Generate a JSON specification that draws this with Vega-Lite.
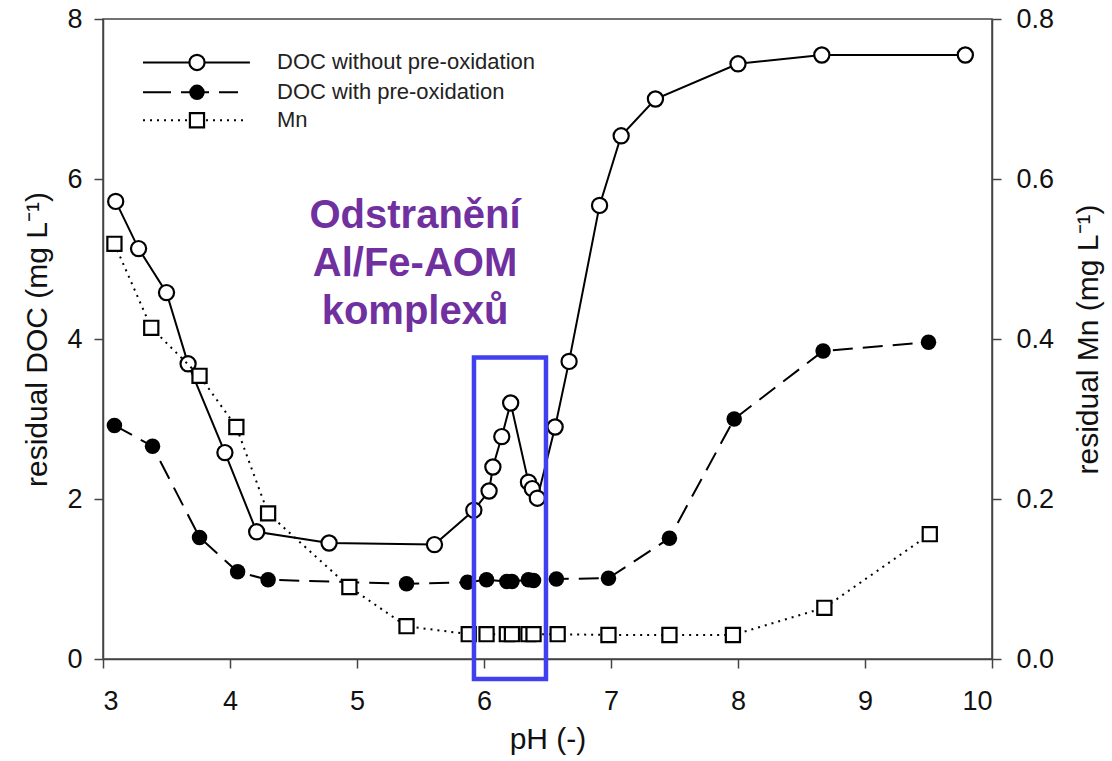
{
  "$schema": "https://vega.github.io/schema/vega-lite/v6.json",
  "width": 889,
  "height": 640,
  "autosize": {"type": "none"},
  "padding": {"left": 103, "top": 19, "right": 120, "bottom": 102},
  "background": "white",
  "config": {
    "view": {"stroke": "#444", "strokeWidth": 1.5},
    "font": "Liberation Sans",
    "axis": {
      "grid": false,
      "domainColor": "#444",
      "domainWidth": 1.5,
      "tickColor": "#444",
      "tickWidth": 1.5,
      "tickSize": 9,
      "labelFont": "Liberation Sans",
      "labelFontSize": 27,
      "labelColor": "#111",
      "titleFont": "Liberation Sans",
      "titleFontSize": 30,
      "titleFontWeight": "normal",
      "titleColor": "#111"
    }
  },
  "datasets": {
    "main": [
      {"s": "A", "ph": 3.10, "v": 5.72},
      {"s": "A", "ph": 3.28, "v": 5.13},
      {"s": "A", "ph": 3.50, "v": 4.58},
      {"s": "A", "ph": 3.67, "v": 3.69},
      {"s": "A", "ph": 3.96, "v": 2.58},
      {"s": "A", "ph": 4.21, "v": 1.59},
      {"s": "A", "ph": 4.78, "v": 1.45},
      {"s": "A", "ph": 5.61, "v": 1.43},
      {"s": "A", "ph": 5.92, "v": 1.86},
      {"s": "A", "ph": 6.04, "v": 2.10},
      {"s": "A", "ph": 6.07, "v": 2.40},
      {"s": "A", "ph": 6.14, "v": 2.78},
      {"s": "A", "ph": 6.21, "v": 3.20},
      {"s": "A", "ph": 6.35, "v": 2.21},
      {"s": "A", "ph": 6.38, "v": 2.13},
      {"s": "A", "ph": 6.42, "v": 2.01},
      {"s": "A", "ph": 6.56, "v": 2.90},
      {"s": "A", "ph": 6.67, "v": 3.72},
      {"s": "A", "ph": 6.91, "v": 5.67},
      {"s": "A", "ph": 7.08, "v": 6.54},
      {"s": "A", "ph": 7.35, "v": 7.00},
      {"s": "A", "ph": 8.00, "v": 7.44},
      {"s": "A", "ph": 8.66, "v": 7.55},
      {"s": "A", "ph": 9.79, "v": 7.55},
      {"s": "B", "ph": 3.09, "v": 2.92},
      {"s": "B", "ph": 3.39, "v": 2.66},
      {"s": "B", "ph": 3.76, "v": 1.52},
      {"s": "B", "ph": 4.06, "v": 1.09},
      {"s": "B", "ph": 4.30, "v": 0.99},
      {"s": "B", "ph": 5.39, "v": 0.94},
      {"s": "B", "ph": 5.87, "v": 0.96},
      {"s": "B", "ph": 6.02, "v": 0.99},
      {"s": "B", "ph": 6.18, "v": 0.97},
      {"s": "B", "ph": 6.22, "v": 0.97},
      {"s": "B", "ph": 6.35, "v": 0.99},
      {"s": "B", "ph": 6.39, "v": 0.98},
      {"s": "B", "ph": 6.57, "v": 1.00},
      {"s": "B", "ph": 6.98, "v": 1.01},
      {"s": "B", "ph": 7.46, "v": 1.51},
      {"s": "B", "ph": 7.97, "v": 3.00},
      {"s": "B", "ph": 8.67, "v": 3.85},
      {"s": "B", "ph": 9.50, "v": 3.96}
    ],
    "mn": [
      {"ph": 3.09, "m": 0.519},
      {"ph": 3.38, "m": 0.414},
      {"ph": 3.76, "m": 0.354},
      {"ph": 4.05, "m": 0.290},
      {"ph": 4.30, "m": 0.182},
      {"ph": 4.94, "m": 0.090},
      {"ph": 5.39, "m": 0.041},
      {"ph": 5.88, "m": 0.031},
      {"ph": 6.02, "m": 0.031},
      {"ph": 6.18, "m": 0.031},
      {"ph": 6.22, "m": 0.031},
      {"ph": 6.35, "m": 0.031},
      {"ph": 6.39, "m": 0.031},
      {"ph": 6.58, "m": 0.031},
      {"ph": 6.98, "m": 0.030},
      {"ph": 7.46, "m": 0.030},
      {"ph": 7.96, "m": 0.030},
      {"ph": 8.68, "m": 0.064},
      {"ph": 9.51, "m": 0.156}
    ],
    "legend": [
      {"row": "A", "ph": 3.315, "ph2": 4.157, "v": 7.457, "sym": 3.74, "tx": 4.37, "label": "DOC without pre-oxidation"},
      {"row": "B", "ph": 3.315, "ph2": 4.063, "v": 7.083, "sym": 3.74, "tx": 4.37, "label": "DOC with pre-oxidation"},
      {"row": "C", "ph": 3.315, "ph2": 4.102, "v": 6.734, "sym": 3.74, "tx": 4.37, "label": "Mn"}
    ],
    "note": [
      {"ph": 5.457, "v": 5.39, "t": "Odstranění"},
      {"ph": 5.457, "v": 4.79, "t": "Al/Fe-AOM"},
      {"ph": 5.457, "v": 4.19, "t": "komplexů"}
    ],
    "box": [
      {"ph": 5.921, "ph2": 6.488, "m": 0.377, "m2": -0.025}
    ]
  },
  "layer": [
    {
      "encoding": {
        "x": {"field": "ph", "type": "quantitative", "title": "pH (-)",
              "scale": {"domain": [3, 10], "nice": false, "zero": false},
              "axis": {"values": [3, 4, 5, 6, 7, 8, 9, 10], "labelPadding": 20, "titlePadding": 10}},
        "y": {"field": "v", "type": "quantitative", "title": "residual DOC (mg L⁻¹)",
              "scale": {"domain": [0, 8], "nice": false},
              "axis": {"values": [0, 2, 4, 6, 8], "orient": "left", "labelPadding": 12, "titlePadding": 14}}
      },
      "layer": [
        {
          "data": {"name": "main"},
          "transform": [{"filter": "datum.s === 'A'"}],
          "mark": {"type": "line", "color": "#000", "strokeWidth": 2}
        },
        {
          "data": {"name": "main"},
          "transform": [{"filter": "datum.s === 'B'"}],
          "mark": {"type": "line", "color": "#000", "strokeWidth": 2, "strokeDash": [20, 10]}
        },
        {
          "data": {"name": "main"},
          "transform": [{"filter": "datum.s === 'B'"}],
          "mark": {"type": "point", "shape": "circle", "filled": true, "color": "#000", "size": 240, "opacity": 1}
        },
        {
          "data": {"name": "main"},
          "transform": [{"filter": "datum.s === 'A'"}],
          "mark": {"type": "point", "shape": "circle", "filled": true, "fill": "#fff", "stroke": "#000", "strokeWidth": 2.2, "size": 230, "opacity": 1}
        },
        {
          "data": {"name": "legend"},
          "transform": [{"filter": "datum.row === 'A'"}],
          "mark": {"type": "rule", "color": "#000", "strokeWidth": 2},
          "encoding": {"x2": {"field": "ph2"}}
        },
        {
          "data": {"name": "legend"},
          "transform": [{"filter": "datum.row === 'B'"}],
          "mark": {"type": "rule", "color": "#000", "strokeWidth": 2, "strokeDash": [28, 10]},
          "encoding": {"x2": {"field": "ph2"}}
        },
        {
          "data": {"name": "legend"},
          "transform": [{"filter": "datum.row === 'C'"}],
          "mark": {"type": "rule", "color": "#000", "strokeWidth": 2, "strokeDash": [2, 5]},
          "encoding": {"x2": {"field": "ph2"}}
        },
        {
          "data": {"name": "legend"},
          "transform": [{"filter": "datum.row === 'A'"}],
          "mark": {"type": "point", "shape": "circle", "filled": true, "fill": "#fff", "stroke": "#000", "strokeWidth": 2.2, "size": 230, "opacity": 1},
          "encoding": {"x": {"field": "sym", "type": "quantitative"}}
        },
        {
          "data": {"name": "legend"},
          "transform": [{"filter": "datum.row === 'B'"}],
          "mark": {"type": "point", "shape": "circle", "filled": true, "color": "#000", "size": 240, "opacity": 1},
          "encoding": {"x": {"field": "sym", "type": "quantitative"}}
        },
        {
          "data": {"name": "legend"},
          "transform": [{"filter": "datum.row === 'C'"}],
          "mark": {"type": "point", "shape": "square", "filled": true, "fill": "#fff", "stroke": "#000", "strokeWidth": 2.2, "size": 200, "opacity": 1},
          "encoding": {"x": {"field": "sym", "type": "quantitative"}}
        },
        {
          "data": {"name": "legend"},
          "mark": {"type": "text", "align": "left", "baseline": "middle", "fontSize": 22, "color": "#222", "font": "Liberation Sans"},
          "encoding": {"x": {"field": "tx", "type": "quantitative"}, "text": {"field": "label"}}
        },
        {
          "data": {"name": "note"},
          "mark": {"type": "text", "align": "center", "baseline": "alphabetic", "fontSize": 40, "fontWeight": "bold", "color": "#7030a0", "font": "Liberation Sans"},
          "encoding": {"text": {"field": "t"}}
        }
      ]
    },
    {
      "encoding": {
        "x": {"field": "ph", "type": "quantitative", "title": "pH (-)",
              "scale": {"domain": [3, 10], "nice": false, "zero": false},
              "axis": {"values": [3, 4, 5, 6, 7, 8, 9, 10], "labelPadding": 20, "titlePadding": 10}},
        "y": {"field": "m", "type": "quantitative", "title": "residual Mn (mg L⁻¹)",
              "scale": {"domain": [0, 0.8], "nice": false},
              "axis": {"values": [0, 0.2, 0.4, 0.6, 0.8], "format": ".1f", "orient": "right", "labelPadding": 15, "titlePadding": 50, "titleAngle": 270}}
      },
      "layer": [
        {
          "data": {"name": "mn"},
          "mark": {"type": "line", "color": "#000", "strokeWidth": 2, "strokeDash": [2, 5]}
        },
        {
          "data": {"name": "mn"},
          "mark": {"type": "point", "shape": "square", "filled": true, "fill": "#fff", "stroke": "#000", "strokeWidth": 2.2, "size": 200, "opacity": 1}
        },
        {
          "data": {"name": "box"},
          "mark": {"type": "rect", "filled": false, "fill": null, "stroke": "#4040f0", "strokeWidth": 4.5, "clip": false},
          "encoding": {"x2": {"field": "ph2"}, "y2": {"field": "m2"}}
        }
      ]
    }
  ],
  "resolve": {"scale": {"y": "independent"}, "axis": {"y": "independent"}}
}
